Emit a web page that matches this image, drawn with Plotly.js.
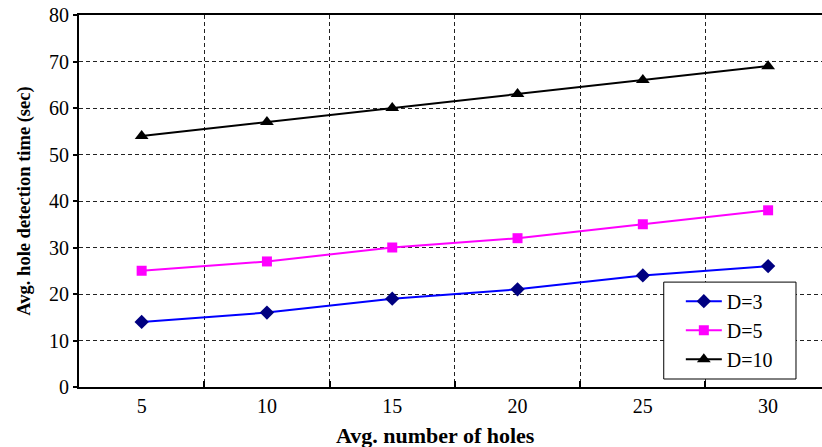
<!DOCTYPE html>
<html>
<head>
<meta charset="utf-8">
<script src="https://cdn.plot.ly/plotly-3.0.1.min.js"></script>
<style>html,body{margin:0;padding:0;background:#fff;}#chart{width:822px;height:447px;}</style>
</head>
<body>
<div id="chart"></div>
<script>
const categories = ["5", "10", "15", "20", "25", "30"];
const seriesNames = ["D=3", "D=5", "D=10"];
const d3Values = [14, 16, 19, 21, 24, 26];
const d5Values = [25, 27, 30, 32, 35, 38];
const d10Values = [54, 57, 60, 63, 66, 69];
const yTicks = [0, 10, 20, 30, 40, 50, 60, 70, 80];
const xTitle = "Avg. number of holes";
const yTitle = "Avg. hole detection time (sec)";

const serif = "Liberation Serif, Times New Roman, serif";

const traces = [
  {x: categories, y: d3Values, name: seriesNames[0], type: "scatter", mode: "lines+markers",
   line: {color: "#0000ff", width: 2}, marker: {symbol: "diamond", size: 11, color: "#000080"}},
  {x: categories, y: d5Values, name: seriesNames[1], type: "scatter", mode: "lines+markers",
   line: {color: "#ff00ff", width: 2}, marker: {symbol: "square", size: 10, color: "#ff00ff"}},
  {x: categories, y: d10Values, name: seriesNames[2], type: "scatter", mode: "lines+markers",
   line: {color: "#000000", width: 2}, marker: {symbol: "triangle-up", size: 12, color: "#000000"}}
];

const layout = {
  width: 822, height: 447,
  margin: {l: 79, r: 0, t: 15, b: 60},
  paper_bgcolor: "#fff", plot_bgcolor: "#fff",
  showlegend: true,
  font: {family: serif, color: "#000", size: 20},
  xaxis: {
    type: "category", range: [-0.5, 5.43], tickson: "boundaries",
    showgrid: true, gridcolor: "#222", griddash: "4px,3px", gridwidth: 1,
    ticks: "inside", ticklen: 6, tickwidth: 2, tickcolor: "#000",
    showline: true, linecolor: "#000", linewidth: 2, mirror: true,
    tickfont: {family: serif, size: 20}, zeroline: false
  },
  yaxis: {
    range: [0, 80], tickvals: yTicks, showgrid: true, gridcolor: "#222", griddash: "4px,3px", gridwidth: 1,
    ticks: "outside", ticklen: 4, tickwidth: 2, tickcolor: "#000",
    showline: true, linecolor: "#000", linewidth: 2, zeroline: false,
    tickfont: {family: serif, size: 20},
    title: {text: "<b>" + yTitle + "</b>", font: {family: serif, size: 18.5}, standoff: 14}
  },
  annotations: [
    {text: "<b>" + xTitle + "</b>", xref: "paper", yref: "paper", x: 0.48, y: -0.13,
     xanchor: "center", yanchor: "middle", showarrow: false, font: {family: serif, size: 22}}
  ],
  shapes: [
    {type: "rect", xref: "paper", yref: "paper", x0: 0.787, x1: 0.965, y0: 0.0215, y1: 0.282,
     line: {color: "#000", width: 1}, fillcolor: "#fff", layer: "above"}
  ],
  legend: {
    x: 0.81, y: 0.283, xanchor: "left", yanchor: "top",
    bgcolor: "rgba(0,0,0,0)", borderwidth: 0,
    font: {family: serif, size: 20}, itemwidth: 36
  }
};

Plotly.newPlot("chart", traces, layout, {displayModeBar: false, staticPlot: true});
</script>
</body>
</html>
